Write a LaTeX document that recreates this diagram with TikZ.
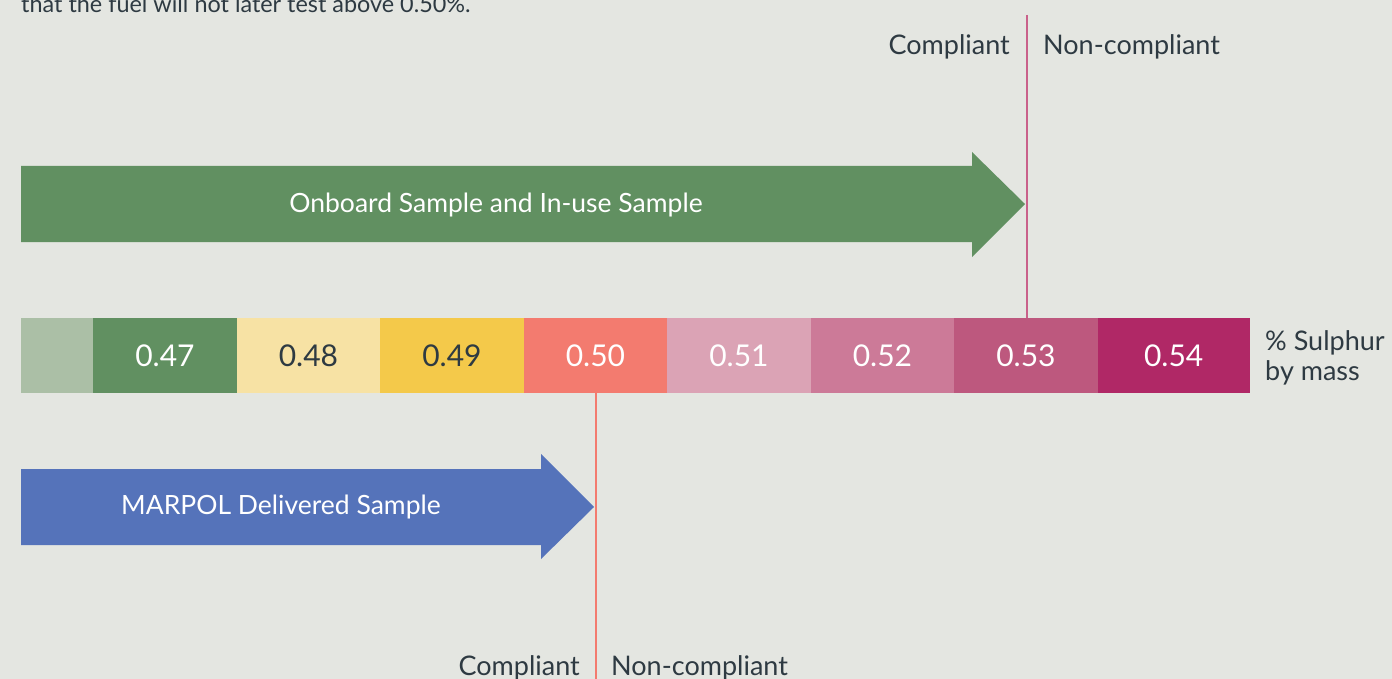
\documentclass[tikz,border=0pt]{standalone}
\usepackage{fontspec}
\setmainfont{Lato}
\definecolor{bg}{HTML}{E4E6E1}
\definecolor{txt}{HTML}{2E3A42}
\definecolor{c0}{HTML}{ABBFA6}
\definecolor{c47}{HTML}{619061}
\definecolor{c48}{HTML}{F7E2A4}
\definecolor{c49}{HTML}{F4C94A}
\definecolor{c50}{HTML}{F37B6F}
\definecolor{c51}{HTML}{DBA3B5}
\definecolor{c52}{HTML}{CC7A98}
\definecolor{c53}{HTML}{BD587E}
\definecolor{c54}{HTML}{B02866}
\definecolor{garrow}{HTML}{619061}
\definecolor{barrow}{HTML}{5573BA}
\definecolor{pline}{HTML}{C9618A}
\begin{document}
\begin{tikzpicture}[x=1pt,y=-1pt,
  seg/.style={draw=none, minimum height=75pt, minimum width=143.5pt, inner sep=0pt, anchor=north west, font=\fontsize{30}{30}\selectfont},
  lbl/.style={text=txt, inner sep=0pt, font=\fontsize{27}{27}\selectfont},
  arrtxt/.style={text=white, inner sep=0pt, font=\fontsize{26.5}{26.5}\selectfont},
  divider/.style={line width=2.4pt}]
\useasboundingbox[fill=bg] (0,0) rectangle (1392,679);
% cut-off top text
\node[anchor=base west, text=txt, inner sep=0pt, font=\fontsize{23.4}{23.4}\selectfont] (top) at (21,12.5) {that the fuel will not later test above 0.50\%.};
% bar segments
\node[seg, fill=c0, minimum width=72pt] (s0) at (21,318) {};
\node[seg, fill=c47, text=white] (s47) at (93,318) {0.47};
\node[seg, fill=c48, text=txt] (s48) at (236.5,318) {0.48};
\node[seg, fill=c49, text=txt] (s49) at (380,318) {0.49};
\node[seg, fill=c50, text=white] (s50) at (523.5,318) {0.50};
\node[seg, fill=c51, text=white] (s51) at (667,318) {0.51};
\node[seg, fill=c52, text=white] (s52) at (810.5,318) {0.52};
\node[seg, fill=c53, text=white] (s53) at (954,318) {0.53};
\node[seg, fill=c54, text=white, minimum width=152pt] (s54) at (1097.5,318) {0.54};
\node[lbl, anchor=base west] (unit1) at (1265,350) {\%~Sulphur};
\node[lbl, anchor=base west] (unit2) at (1265,380) {by mass};
% green arrow
\fill[garrow] (21,166) -- (972,166) -- (972,152) -- (1025,204) -- (972,257) -- (972,242) -- (21,242) -- cycle;
\coordinate (gtip) at (1025,204);
\node[arrtxt] (glabel) at (496,205) {Onboard Sample and In-use Sample};
% blue arrow
\fill[barrow] (21,469) -- (541,469) -- (541,454) -- (594,507) -- (541,559) -- (541,545) -- (21,545) -- cycle;
\coordinate (btip) at (594,507);
\node[arrtxt] (blabel) at (281,507) {MARPOL Delivered Sample};
% dividers
\coordinate (ptop) at (1027,15);
\coordinate (pbot) at (1027,318);
\draw[divider, draw=pline] (ptop) -- (pbot);
\coordinate (stop) at (596,393);
\coordinate (sbot) at (596,679);
\draw[divider, draw=c50] (stop) -- (sbot);
% compliance labels
\node[lbl, anchor=base east] (c1) at (1010,55) {Compliant};
\node[lbl, anchor=base west] (n1) at (1043,55) {Non-compliant};
\node[lbl, anchor=base east] (c2) at (580,675) {Compliant};
\node[lbl, anchor=base west] (n2) at (611,675) {Non-compliant};
\end{tikzpicture}
\end{document}
